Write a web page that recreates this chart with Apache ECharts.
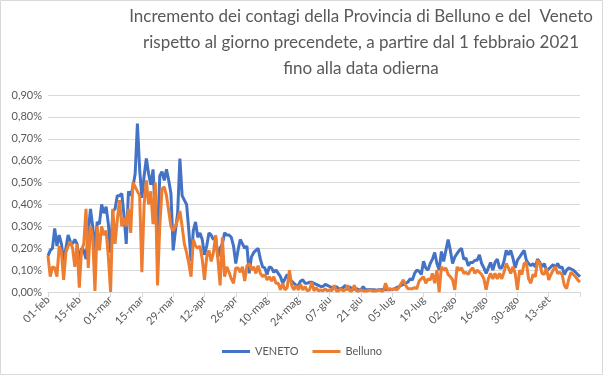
<!DOCTYPE html>
<html><head><meta charset="utf-8">
<script src="https://cdn.jsdelivr.net/npm/echarts@6/dist/echarts.min.js"></script>
<style>html,body{margin:0;padding:0;background:#fff}#c{width:604px;height:376px}</style>
</head><body><div id="c"></div>
<script>
// Month names and lengths (01-feb .. 27-set 2021)
const monthNames = ['feb','mar','apr','mag','giu','lug','ago','set'];
const monthDays = [28,31,30,31,30,31,31,27];
const categories = [];
monthNames.forEach((m,k)=>{for(let d=1; d<=monthDays[k]; d++){categories.push((d<10?'0':'')+d+'-'+m);}});

const yTicks = [0,0.1,0.2,0.3,0.4,0.5,0.6,0.7,0.8,0.9];

// Daily increase (%) - VENETO
const veneto = [
0.165,0.19,0.20,0.29,0.21,0.26,0.22,0.14,0.20,0.26,
0.23,0.22,0.24,0.22,0.14,0.20,0.19,0.15,0.27,0.38,
0.30,0.19,0.32,0.31,0.40,0.36,0.39,0.31,0.18,0.37,
0.38,0.44,0.44,0.45,0.35,0.22,0.46,0.44,0.48,0.54,
0.77,0.56,0.43,0.53,0.61,0.54,0.49,0.56,0.36,0.26,
0.53,0.55,0.51,0.56,0.51,0.45,0.19,0.28,0.36,0.61,
0.44,0.42,0.40,0.28,0.14,0.28,0.32,0.25,0.27,0.24,
0.17,0.21,0.27,0.26,0.24,0.25,0.16,0.20,0.22,0.27,
0.26,0.26,0.25,0.21,0.13,0.19,0.24,0.22,0.20,0.21,
0.085,0.16,0.18,0.19,0.20,0.15,0.115,0.11,0.08,0.115,
0.11,0.09,0.10,0.085,0.07,0.04,0.06,0.08,0.055,0.05,
0.04,0.03,0.03,0.05,0.055,0.04,0.04,0.045,0.045,0.04,
0.035,0.03,0.025,0.025,0.035,0.03,0.025,0.02,0.02,0.025,
0.015,0.015,0.02,0.03,0.01,0.025,0.01,0.012,0.015,0.01,
0.01,0.025,0.01,0.01,0.012,0.01,0.01,0.008,0.01,0.01,
0.012,0.01,0.01,0.01,0.012,0.015,0.02,0.025,0.03,0.035,
0.04,0.045,0.06,0.055,0.085,0.10,0.095,0.08,0.14,0.11,
0.10,0.13,0.15,0.18,0.13,0.10,0.185,0.14,0.19,0.24,
0.19,0.13,0.16,0.175,0.19,0.20,0.15,0.155,0.12,0.135,
0.135,0.145,0.145,0.17,0.13,0.11,0.085,0.11,0.135,0.10,
0.135,0.15,0.11,0.11,0.14,0.19,0.17,0.19,0.155,0.11,
0.145,0.16,0.175,0.19,0.145,0.13,0.12,0.13,0.115,0.15,
0.135,0.115,0.13,0.10,0.105,0.115,0.125,0.11,0.13,0.11,
0.115,0.08,0.10,0.11,0.105,0.10,0.09,0.08,0.07
];

// Daily increase (%) - Belluno
const belluno = [
0.165,0.07,0.115,0.11,0.07,0.21,0.18,0.055,0.18,0.21,
0.23,0.20,0.115,0.22,0.02,0.19,0.22,0.38,0.11,0.30,
0.25,0.005,0.30,0.19,0.30,0.26,0.28,0.16,0.00,0.38,
0.22,0.33,0.42,0.30,0.34,0.30,0.38,0.27,0.50,0.48,
0.46,0.44,0.09,0.40,0.51,0.40,0.46,0.31,0.50,0.03,
0.30,0.47,0.48,0.44,0.37,0.30,0.28,0.30,0.33,0.37,
0.30,0.22,0.18,0.13,0.07,0.24,0.21,0.20,0.21,0.15,
0.055,0.16,0.19,0.14,0.18,0.26,0.15,0.03,0.25,0.07,
0.115,0.09,0.06,0.04,0.11,0.11,0.09,0.115,0.05,0.12,
0.13,0.10,0.115,0.085,0.12,0.085,0.07,0.08,0.055,0.07,
0.05,0.07,0.04,0.04,0.01,0.04,0.01,0.02,0.10,0.03,
0.01,0.03,0.01,0.035,0.01,0.025,0.005,0.01,0.045,0.005,
0.02,0.005,0.01,0.005,0.015,0.005,0.01,0.005,0.03,0.005,
0.005,0.015,0.005,0.01,0.03,0.005,0.005,0.03,0.005,0.005,
0.01,0.005,0.005,0.005,0.01,0.005,0.005,0.005,0.01,0.005,
0.005,0.04,0.01,0.015,0.01,0.015,0.01,0.02,0.04,0.055,
0.03,0.015,0.015,0.015,0.02,0.015,0.05,0.06,0.07,0.04,
0.06,0.055,0.085,0.04,0.10,0.00,0.115,0.10,0.11,0.08,
0.07,0.055,0.01,0.115,0.10,0.11,0.085,0.09,0.08,0.10,
0.11,0.085,0.10,0.09,0.08,0.06,0.01,0.06,0.085,0.06,
0.085,0.06,0.085,0.06,0.09,0.13,0.11,0.085,0.115,0.085,
0.01,0.10,0.08,0.13,0.135,0.06,0.04,0.08,0.07,0.145,
0.13,0.085,0.08,0.11,0.055,0.08,0.10,0.115,0.085,0.09,
0.08,0.03,0.015,0.06,0.09,0.08,0.07,0.055,0.045
];

const titleLines = [
 'Incremento dei contagi della Provincia di Belluno e del  Veneto',
 'rispetto al giorno precendete, a partire dal 1 febbraio 2021',
 'fino alla data odierna'
];

const chart = echarts.init(document.getElementById('c'), null, {renderer:'canvas'});
const fontFam = 'Lato, "Open Sans", sans-serif';
chart.setOption({
  animation:false,
  backgroundColor:'#fff',
  graphic:[
    {type:'rect', shape:{x:0.5,y:0.5,width:602,height:374}, style:{fill:'none',stroke:'#d9d9d9',lineWidth:1}, z:-1},
    ...titleLines.map((t,i)=>({type:'text', x:361, y:8+i*26, style:{text:t, fill:'#595959', font:'17px '+fontFam, textAlign:'center', textVerticalAlign:'top'}}))
  ],
  grid:{left:48,right:24,top:95,bottom:84},
  legend:{
    bottom:14, left:'center', itemWidth:28, itemHeight:3, itemGap:14, icon:'rect',
    textStyle:{color:'#595959', fontSize:11, fontFamily:fontFam},
    data:['VENETO','Belluno']
  },
  xAxis:{
    type:'category', data:categories, boundaryGap:false,
    axisLine:{lineStyle:{color:'#d9d9d9'}},
    axisTick:{show:true, interval:13, length:5, lineStyle:{color:'#d9d9d9'}},
    axisLabel:{interval:(i)=> i%14===0 && i<238, rotate:45, color:'#595959', fontSize:11, fontFamily:fontFam, margin:6},
    splitLine:{show:false}
  },
  yAxis:{
    type:'value', min:0, max:0.9, interval:0.1,
    axisLine:{show:false}, axisTick:{show:false},
    axisLabel:{color:'#595959', fontSize:11, fontFamily:fontFam, margin:6,
      formatter:(v)=> v.toFixed(2).replace('.',',')+'%'},
    splitLine:{lineStyle:{color:'#d9d9d9'}}
  },
  series:[
    {name:'VENETO', type:'line', data:veneto, showSymbol:false, symbol:'none', lineStyle:{width:3,color:'#4472C4'}, itemStyle:{color:'#4472C4'}},
    {name:'Belluno', type:'line', data:belluno, showSymbol:false, symbol:'none', lineStyle:{width:3,color:'#ED7D31'}, itemStyle:{color:'#ED7D31'}}
  ]
});
</script></body></html>
